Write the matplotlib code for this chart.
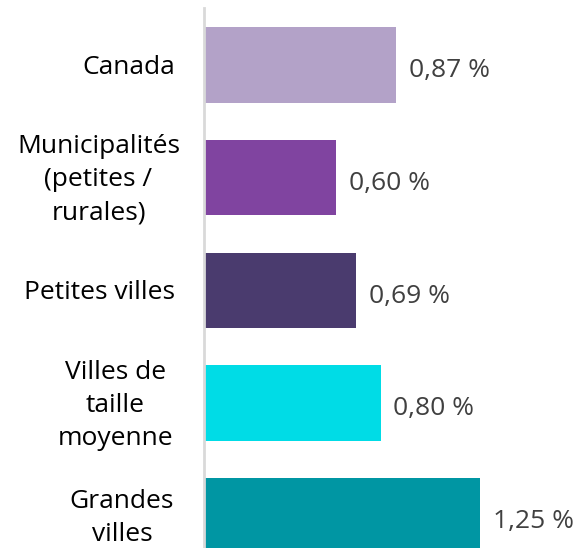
import matplotlib.pyplot as plt
import matplotlib.transforms as mtransforms

# Data
categories = ['Canada', 'Municipalités\n(petites /\nrurales)', 'Petites villes',
              'Villes de\ntaille\nmoyenne', 'Grandes\nvilles']
values = [0.87, 0.60, 0.69, 0.80, 1.25]
value_labels = ['0,87 %', '0,60 %', '0,69 %', '0,80 %', '1,25 %']
colors = ['#B3A2C8', '#8044A0', '#4A3B6E', '#00DCE6', '#0096A3']
# horizontal centre of each wrapped category label (figure pixels)
label_centers = [129, 98.5, 99.5, 115.5, 122]

plt.rcParams['font.family'] = ['Open Sans', 'DejaVu Sans']

fig = plt.figure(figsize=(5.76, 5.48), dpi=100)
# axes runs past the bottom of the figure, as in the reference (last bar is cut)
ax = fig.add_axes([204 / 576, -0.0445, 372 / 576, 1.029])

pos = list(range(len(categories)))
ax.barh(pos, values, height=0.67, color=colors)
ax.set_ylim(len(categories) - 0.5, -0.5)
ax.set_xlim(0, 372 / 220.7)

for p, v, lab in zip(pos, values, value_labels):
    ax.text(v + 0.058, p + 0.05, lab, va='center', ha='left',
            fontsize=19, color='#404040')

# category labels, each line centred like the wrapped labels of the original
trans = mtransforms.blended_transform_factory(fig.transFigure, ax.transData)
for p, cat, cx in zip(pos, categories, label_centers):
    ax.text(cx / 576, p + 0.02, cat, transform=trans, ha='center', va='center',
            multialignment='center', fontsize=19, color='#000000',
            linespacing=1.42, clip_on=False)

ax.set_yticks([])
ax.set_xticks([])

for s in ['top', 'right', 'bottom']:
    ax.spines[s].set_visible(False)
ax.spines['left'].set_color('#D9D9D9')
ax.spines['left'].set_linewidth(2)

fig.savefig('out.png', dpi=100)
